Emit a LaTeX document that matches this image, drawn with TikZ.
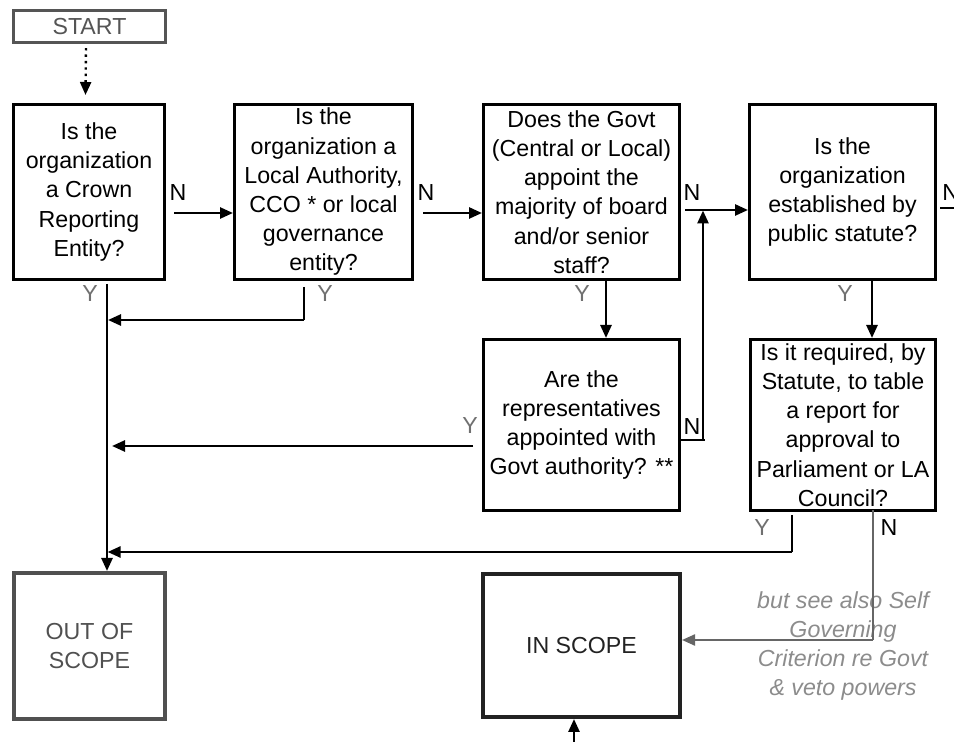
\documentclass[tikz,border=0pt]{standalone}
\usepackage{fontspec}
\setmainfont{Liberation Sans}
\usetikzlibrary{arrows.meta}
\definecolor{startgray}{HTML}{555555}
\definecolor{outgray}{HTML}{505050}
\definecolor{ingray}{HTML}{222222}
\definecolor{lblgray}{HTML}{707070}
\definecolor{notegray}{HTML}{8C8C8C}
\definecolor{linegray}{HTML}{666666}

\begin{document}
\begin{tikzpicture}[x=0.5pt,y=-0.5pt,
	font=\fontsize{11.6pt}{14.6pt}\selectfont,
	question/.style={draw, line width=1.6pt, align=center, inner sep=0pt, minimum height=87.4pt},
	arr/.style={line width=1.3pt, -{Triangle[length=6.5pt,width=5.5pt]}},
	lbl/.style={inner sep=0pt},
	ylbl/.style={inner sep=0pt, text=lblgray}]
	\useasboundingbox (0,0) rectangle (954,742);

	% boxes
	\node[draw=startgray, line width=1.6pt, text=startgray, inner sep=0pt, minimum width=75.9pt, minimum height=16pt] (start) at (89.5,26.5) {START};
	\node[question, minimum width=75.4pt] (crown) at (89,192) {Is the\\organization\\a Crown\\Reporting\\Entity?};
	\node[question, minimum width=88.9pt] (local) at (323.5,192) {Is the\\organization a\\Local Authority,\\CCO * or local\\governance\\entity?};
	\node[question, minimum width=97.9pt] (appoint) at (581.5,192) {Does the Govt\\(Central or Local)\\appoint the\\majority of board\\and/or senior\\staff?};
	\node[question, minimum width=92.9pt] (statute) at (842.5,192) {Is the\\organization\\established by\\public statute?};
	\node[question, minimum width=97.9pt, minimum height=85.4pt] (repr) at (581.5,425) {Are the\\representatives\\appointed with\\Govt authority? **};
	\node[question, minimum width=92.4pt, minimum height=85.4pt] (table) at (843,425) {Is it required, by\\Statute, to table\\a report for\\approval to\\Parliament or LA\\Council?};
	\node[draw=outgray, line width=1.8pt, text=outgray, align=center, minimum width=75.7pt, minimum height=73.2pt] (out) at (89.5,646) {OUT OF\\SCOPE};
	\node[draw=ingray, line width=2.1pt, text=ingray, minimum width=98.4pt, minimum height=71.4pt] (in) at (581.5,645.5) {IN SCOPE};
	\node[align=center, text=notegray, font=\fontsize{11.6pt}{14.6pt}\selectfont\itshape] (note) at (843,646) {but see also Self\\Governing\\Criterion re Govt\\\& veto powers};

	\coordinate (spine) at ([xshift=8.75pt]out.north);
	\coordinate (join) at (703,210.5);

	% connectors
	\draw[line width=1.2pt, dotted, -{Triangle[length=6.5pt,width=5.5pt]}] ([xshift=-1.75pt,yshift=-2pt]start.south) -- ([xshift=-1.75pt,yshift=4pt]crown.north);
	\draw[arr] ([xshift=4pt,yshift=-10.5pt]crown.east) -- ([yshift=-10.5pt]local.west);
	\draw[arr] ([xshift=4.5pt,yshift=-10.5pt]local.east) -- ([yshift=-10.5pt]appoint.west);
	\draw[arr] ([xshift=2pt,yshift=-9pt]appoint.east) -- ([yshift=-9pt]statute.west);
	\draw[line width=0.6pt] ([yshift=-7.5pt]repr.east) -- ++(12pt,0) coordinate (reprn);
	\draw[arr] (join |- reprn) -- (join);
	\draw[line width=0.6pt] ([xshift=1.5pt,yshift=-8pt]statute.east) -- ++(20pt,0);

	\draw[arr] ([yshift=-1.5pt]spine |- crown.south) -- (spine);
	\draw[line width=0.6pt] ([xshift=-9.75pt,yshift=-3pt]local.south) -- ++(0,-16.5pt) coordinate (localy);
	\draw[arr] (localy) -- ([xshift=0.5pt]spine |- localy);
	\draw[arr] ([xshift=12.25pt]appoint.south) -- ([xshift=12.25pt]appoint.south |- repr.north);
	\draw[arr] ([xshift=14.75pt]statute.south) -- ([xshift=14.75pt]statute.south |- table.north);
	\draw[arr] ([xshift=-4.5pt,yshift=-10.5pt]repr.west) -- ([xshift=2.5pt,yshift=-10.5pt]spine |- repr.west);
	\draw[line width=0.6pt] ([xshift=-25.5pt,yshift=-1.5pt]table.south) -- ++(0,-18.5pt) coordinate (tabley);
	\draw[arr] (tabley) -- ([xshift=0.3pt]spine |- tabley);
	\draw[linegray, line width=0.6pt] ([xshift=15pt,yshift=1pt]table.south) -- ++(0,-65pt) coordinate (tablen);
	\draw[arr, linegray, line width=1.1pt] (tablen) -- (in.east |- tablen);
	\draw[arr] ([xshift=-3.75pt,yshift=-13pt]in.south) -- ([xshift=-3.75pt]in.south);

	% labels
	\node[lbl] (n1) at (178,193) {N};
	\node[lbl] (n2) at (426,193) {N};
	\node[lbl] (n3) at (692,193) {N};
	\node[lbl] (n4) at (692,427) {N};
	\node[lbl, anchor=west] (n5) at (942,193) {N};
	\node[lbl] (n6) at (889,528) {N};
	\node[ylbl] (y1) at (90,294) {Y};
	\node[ylbl] (y2) at (325,294) {Y};
	\node[ylbl] (y3) at (582,294) {Y};
	\node[ylbl] (y4) at (845,294) {Y};
	\node[ylbl] (y5) at (470,426) {Y};
	\node[ylbl] (y6) at (762,528) {Y};
\end{tikzpicture}
\end{document}
